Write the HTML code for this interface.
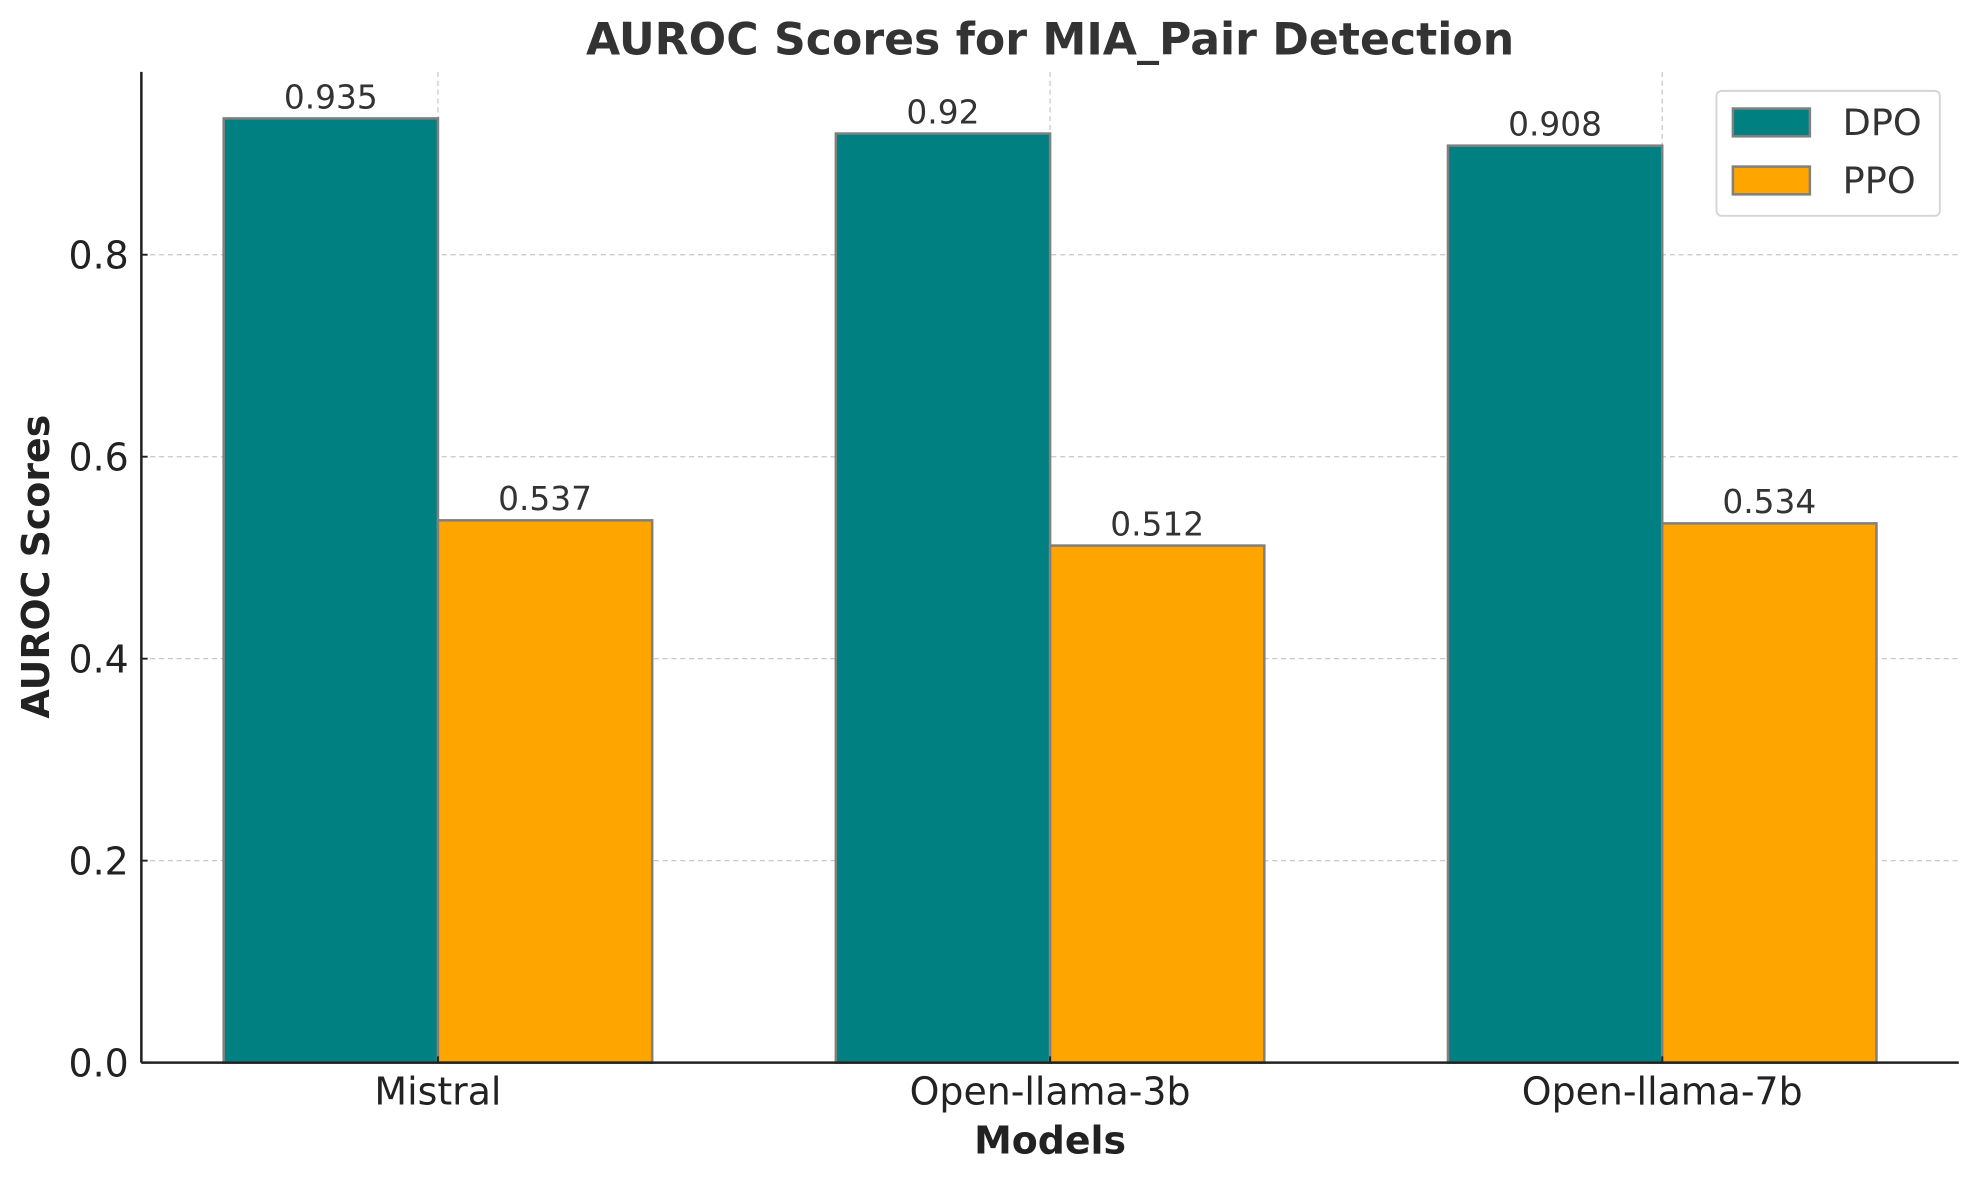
<!DOCTYPE html>
<html><head><meta charset="utf-8"><style>
html,body{margin:0;padding:0;background:#fff}
svg{display:block}
text{font-family:"DejaVu Sans","Liberation Sans",sans-serif}
</style></head><body>
<svg id="chart" width="1979" height="1180" viewBox="0 0 1568 935" preserveAspectRatio="none" xmlns="http://www.w3.org/2000/svg">
<g id="grid"></g>
<g id="bars"></g>
<g id="labels"></g>
<g id="axes"></g>
<text x="832" y="43" text-anchor="middle" font-size="35" font-weight="bold" fill="#333">AUROC Scores for MIA_Pair Detection</text>
<text x="832" y="914" text-anchor="middle" font-size="30" font-weight="bold" fill="#222">Models</text>
<text transform="translate(39,449) rotate(-90)" text-anchor="middle" font-size="30" font-weight="bold" fill="#222">AUROC Scores</text>
<g>
<rect x="1360" y="72" width="177" height="99" rx="4" fill="#fff" stroke="#d5d5d5" stroke-width="1.5"/>
<rect x="1373" y="86" width="61" height="22" fill="#008080" stroke="#808080" stroke-width="2"/>
<text x="1460" y="107" font-size="29" fill="#333">DPO</text>
<rect x="1373" y="132" width="61" height="22" fill="#FFA500" stroke="#808080" stroke-width="2"/>
<text x="1460" y="153" font-size="29" fill="#333">PPO</text>
</g>
</svg>
<script>
const categories = ["Mistral", "Open-llama-3b", "Open-llama-7b"];
const dpoValues = [0.935, 0.92, 0.908];
const ppoValues = [0.537, 0.512, 0.534];
const yTicks = [0.0, 0.2, 0.4, 0.6, 0.8];
const yTickLabels = ["0.0", "0.2", "0.4", "0.6", "0.8"];
const valueLabelsDpo = ["0.935", "0.92", "0.908"];
const valueLabelsPpo = ["0.537", "0.512", "0.534"];

const NS = "http://www.w3.org/2000/svg";
const L = 112, R = 1552, T = 57, B = 842;
const xMin = -0.4845, xMax = 2.4845, yMin = 0, yMax = 0.981;
const xs = v => L + (v - xMin) / (xMax - xMin) * (R - L);
const ys = v => B - (v - yMin) / (yMax - yMin) * (B - T);
const bw = 0.35;
function mk(tag, attrs, parent) {
  const e = document.createElementNS(NS, tag);
  for (const k in attrs) e.setAttribute(k, attrs[k]);
  parent.appendChild(e);
  return e;
}
const grid = document.getElementById('grid'), bars = document.getElementById('bars'),
      labels = document.getElementById('labels'), axes = document.getElementById('axes');
yTicks.forEach((t, i) => {
  if (t > 0) {
    const g = mk('line', {x1: L, x2: R, y1: ys(t), y2: ys(t), stroke: '#c8c8c8', 'stroke-width': 1, 'stroke-dasharray': '4,3'}, grid);
    
    
  }
  const tk = mk('line', {x1: L, x2: L + 5, y1: ys(t), y2: ys(t), stroke: '#222', 'stroke-width': 1.5}, axes);
  
  
  const tl = mk('text', {x: L - 10, y: ys(t) + 11, 'text-anchor': 'end', 'font-size': 30, fill: '#222'}, axes);
  tl.textContent = yTickLabels[i];
  
  
});
categories.forEach((c, i) => {
  const g = mk('line', {x1: xs(i), x2: xs(i), y1: T, y2: B, stroke: '#c8c8c8', 'stroke-width': 1, 'stroke-dasharray': '4,3'}, grid);
  
  
  [[dpoValues, valueLabelsDpo, '#008080', -1, 'dpo'], [ppoValues, valueLabelsPpo, '#FFA500', 0, 'ppo']].forEach(([vals, lbls, col, off, nm]) => {
    const x0 = xs(i + off * bw), x1 = xs(i + (off + 1) * bw);
    const r = mk('rect', {x: x0, y: ys(vals[i]), width: x1 - x0, height: ys(0) - ys(vals[i]), fill: col, stroke: '#808080', 'stroke-width': 2}, bars);
    
    
    const t = mk('text', {x: (x0 + x1) / 2, y: ys(vals[i]) - 8, 'text-anchor': 'middle', 'font-size': 26, fill: '#333'}, labels);
    t.textContent = lbls[i];
    
    
  });
  const tk = mk('line', {x1: xs(i), x2: xs(i), y1: B, y2: B - 5, stroke: '#222', 'stroke-width': 1.5}, axes);
  
  
  const tl = mk('text', {x: xs(i), y: B + 33, 'text-anchor': 'middle', 'font-size': 30, fill: '#222'}, axes);
  tl.textContent = c;
  
  
});
const ya = mk('line', {x1: L, x2: L, y1: T, y2: B, stroke: '#222', 'stroke-width': 2}, axes);


const xa = mk('line', {x1: L, x2: R, y1: B, y2: B, stroke: '#222', 'stroke-width': 2}, axes);


</script>
</body></html>
